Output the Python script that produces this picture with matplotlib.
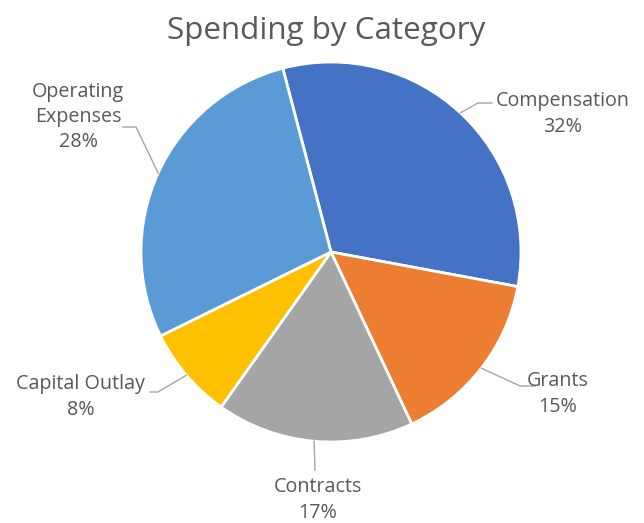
import numpy as np
import matplotlib.pyplot as plt

categorias = ["Compensation", "Grants", "Contracts", "Capital Outlay", "Operating Expenses"]
valores = [32.0, 15.1, 16.8, 7.9, 28.2]
etiquetas = ["Compensation\n32%", "Grants\n15%", "Contracts\n17%", "Capital Outlay\n8%", "Operating\nExpenses\n28%"]
colores = ["#4472C4", "#ED7D31", "#A5A5A5", "#FFC000", "#5B9BD5"]

# geometria en pixeles de la imagen (ancho 644, alto 523)
W, H = 644, 523
CX, CY, R = 331, 252, 190


def px(x, y):
    # pixel de imagen -> coordenadas de datos (radio del pastel = 1)
    return (x - CX) / R, (CY - y) / R


# posicion del texto y codo de la linea guia (en pixeles)
pos_texto = [(563, 114), (558, 394), (318, 500), (81, 397), (78, 117)]
codo = [(478, 103), (520, 386), (315, 470), (158, 392), (136, 127)]
inicio = [(492, 103), (535, 386), (315, 470), (150, 392), (123, 127)]

fig = plt.figure(figsize=(W / 100, H / 100), dpi=100)
ax = fig.add_axes([0, 0, 1, 1])

wedges, _ = ax.pie(valores, colors=colores, startangle=104.7, counterclock=False,
                   radius=1, center=(0, 0), frame=True,
                   wedgeprops=dict(edgecolor="white", linewidth=2))
ax.set_xlim(px(0, 0)[0], px(W, 0)[0])
ax.set_ylim(px(0, H)[1], px(0, 0)[1])
ax.set_aspect("equal")
ax.axis("off")

for w, txt, pt, cd, ini in zip(wedges, etiquetas, pos_texto, codo, inicio):
    ang = np.deg2rad((w.theta1 + w.theta2) / 2)
    borde = (np.cos(ang), np.sin(ang))
    p_ini = px(*ini)
    p_cd = px(*cd)
    ax.plot([p_ini[0], p_cd[0], borde[0]], [p_ini[1], p_cd[1], borde[1]],
            color="#A6A6A6", linewidth=1)
    tx, ty = px(*pt)
    ax.text(tx, ty, txt, ha="center", va="center", fontsize=14.2,
            family="Open Sans", color="#595959", linespacing=1.35)

tx, ty = px(326, 31)
ax.text(tx, ty, "Spending by Category", ha="center", va="center",
        fontsize=22.6, family="Open Sans", color="#595959")

fig.savefig("out.png", dpi=100, facecolor="white")
